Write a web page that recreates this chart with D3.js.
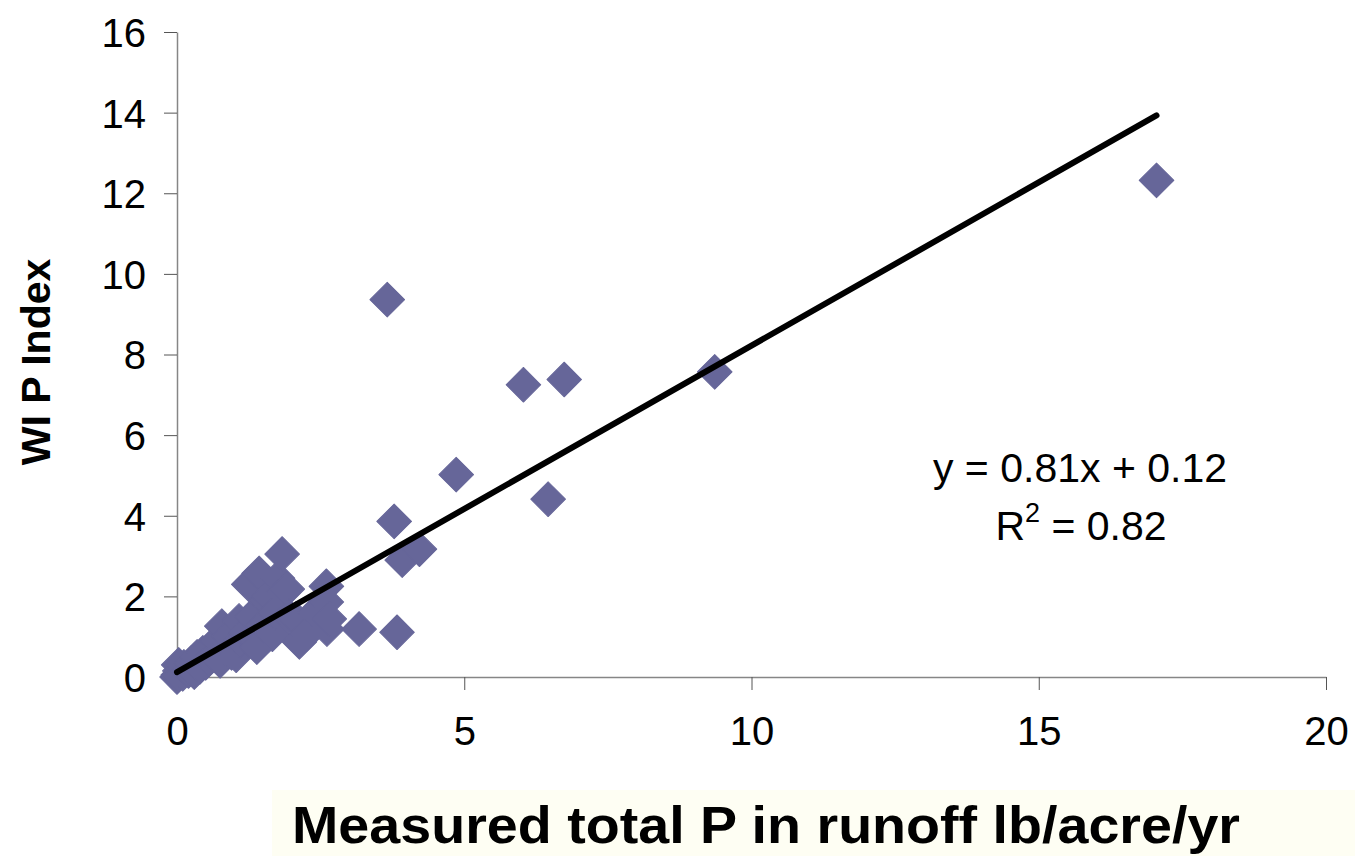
<!DOCTYPE html>
<html>
<head>
<meta charset="utf-8">
<script src="https://cdn.jsdelivr.net/npm/d3@7"></script>
<style>
  html, body { margin: 0; padding: 0; background: #ffffff; }
  svg { display: block; }
</style>
</head>
<body>
<svg id="chart" width="1355" height="856"></svg>
<script>
// ---- data ----
const measuredP = [0, 0.02, 0.05, 0.03, 0.1, 0.12, 0.2, 0.25, 0.3, 0.35, 0.4, 0.45, 0.5, 0.56, 0.6, 0.65, 0.7, 0.75, 0.78, 0.85, 0.9, 0.95, 1.03, 1.08, 1.1, 1.2, 1.25, 1.3, 1.35, 1.39, 1.43, 1.5, 1.55, 1.6, 1.66, 1.7, 1.75, 1.83, 1.85, 1.92, 1.95, 2.07, 2.13, 2.25, 2.4, 2.6, 2.6, 2.61, 2.65, 3.17, 3.83, 3.92, 4.22, 3.78, 3.66, 4.86, 6.46, 6.03, 6.74, 9.36, 17.05];
const wiPIndex   = [0, 0.05, 0.15, 0.3, 0.08, 0.25, 0.15, 0.35, 0.12, 0.5, 0.25, 0.6, 0.35, 0.45, 0.75, 0.55, 0.9, 0.4, 1.26, 0.7, 1.0, 0.6, 0.54, 1.39, 0.9, 1.1, 2.3, 1.5, 0.95, 0.74, 2.57, 1.3, 1.9, 2.0, 1.06, 1.6, 2.45, 3.05, 2.1, 2.18, 1.5, 1.44, 0.87, 1.06, 1.6, 2.25, 1.86, 1.19, 1.44, 1.19, 1.11, 2.9, 3.17, 3.86, 9.36, 5.02, 4.41, 7.25, 7.38, 7.57, 12.32];
const trendSlope = 0.81;
const trendIntercept = 0.12;
const trendXRange = [0, 17.05];
const xTicks = [0, 5, 10, 15, 20];
const yTicks = [0, 2, 4, 6, 8, 10, 12, 14, 16];
const xTitle = "Measured total P in runoff lb/acre/yr";
const yTitle = "WI P Index";
const eqLine1 = "y = 0.81x + 0.12";
const r2Value = "0.82";

// ---- drawing ----
const svg = d3.select("#chart");
const x = d3.scaleLinear().domain([0, 20]).range([177, 1326]);
const y = d3.scaleLinear().domain([0, 16]).range([677, 32]);
const axisColor = "#868686";
const font = "'Liberation Sans', Arial, sans-serif";

// cream box behind x title
svg.append("rect").attr("x", 272).attr("y", 790).attr("width", 1083).attr("height", 66)
  .attr("fill", "#fefef3");

// axes
const gx = svg.append("g").attr("transform", `translate(0,${y(0)})`)
  .call(d3.axisBottom(x).tickValues(xTicks).tickSize(13).tickSizeOuter(0).tickPadding(27));
const gy = svg.append("g").attr("transform", `translate(${x(0)},0)`)
  .call(d3.axisLeft(y).tickValues(yTicks).tickSize(13).tickSizeOuter(0).tickPadding(18));
[gx, gy].forEach(g => {
  g.select(".domain").attr("stroke", axisColor).attr("stroke-width", 1.5);
  g.selectAll(".tick line").attr("stroke", "#555").attr("stroke-width", 1);
  g.selectAll(".tick text").attr("fill", "#000").attr("font-family", font).attr("font-size", 40);
});
gy.selectAll(".tick text").attr("dy", "0.36em");

// points
const pts = measuredP.map((v, i) => ({ x: v, y: wiPIndex[i] }));
const sym = d3.symbol().type(d3.symbolSquare).size(600);
svg.append("g").selectAll("path").data(pts).join("path")
  .attr("d", sym)
  .attr("transform", d => `translate(${x(d.x)},${y(d.y)}) rotate(45)`)
  .attr("fill", "#666699")
  .attr("stroke", "#666699").attr("stroke-width", 1).attr("stroke-linejoin", "round");

// trend line
const line = d3.line().x(d => x(d)).y(d => y(trendSlope * d + trendIntercept));
svg.append("path").datum(trendXRange).attr("d", line)
  .attr("stroke", "#000").attr("stroke-width", 6).attr("fill", "none").attr("stroke-linecap", "round");

// equation
svg.append("text").attr("x", 1080).attr("y", 482).attr("text-anchor", "middle")
  .attr("font-family", font).attr("font-size", 41).text(eqLine1);
const t2 = svg.append("text").attr("x", 1081).attr("y", 540).attr("text-anchor", "middle")
  .attr("font-family", font).attr("font-size", 41);
t2.append("tspan").text("R");
t2.append("tspan").attr("font-size", 27).attr("dy", -18).text("2");
t2.append("tspan").attr("dy", 18).text(" = " + r2Value);

// titles
svg.append("text").attr("x", 766).attr("y", 843).attr("text-anchor", "middle")
  .attr("font-family", font).attr("font-weight", "bold").attr("font-size", 52)
  .attr("textLength", 948).attr("lengthAdjust", "spacingAndGlyphs").text(xTitle);
svg.append("text").attr("transform", "translate(50,362) rotate(-90)").attr("text-anchor", "middle")
  .attr("font-family", font).attr("font-weight", "bold").attr("font-size", 41).text(yTitle);
</script>
</body>
</html>
